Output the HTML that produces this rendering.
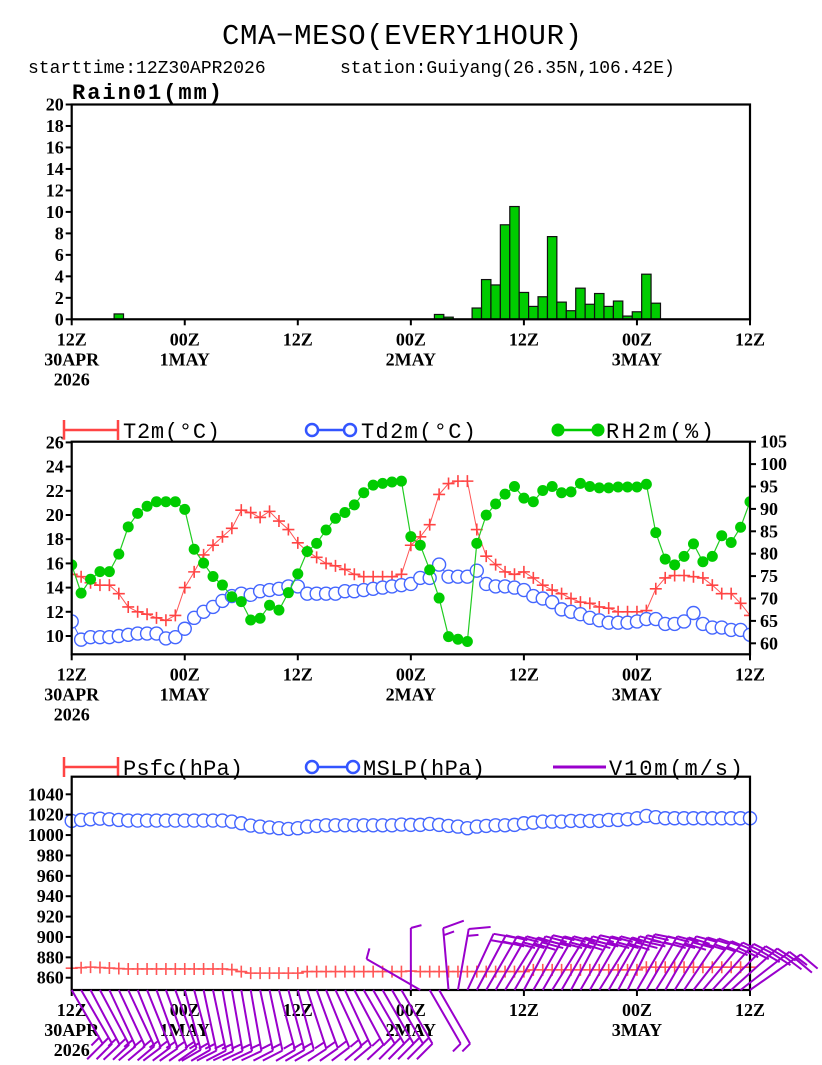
<!DOCTYPE html>
<html><head><meta charset="utf-8"><style>
html,body{margin:0;padding:0;background:#fff;}
svg{display:block;}
.tk{font-family:"Liberation Serif",serif;font-weight:bold;font-size:18px;fill:#000;}
.mono{font-family:"Liberation Mono",monospace;fill:#000;white-space:pre;}
</style></head><body>
<svg id="chart" width="822" height="1065" viewBox="0 0 822 1065" xmlns="http://www.w3.org/2000/svg">
<rect width="822" height="1065" fill="#fff"/>
<text class="mono" x="402" y="44" font-size="29" text-anchor="middle" textLength="360">CMA−MESO(EVERY1HOUR)</text>
<text class="mono" x="28" y="73" font-size="18">starttime:12Z30APR2026</text>
<text class="mono" x="340" y="73" font-size="18">station:Guiyang(26.35N,106.42E)</text>
<g id="p1"></g>
<g id="p2"></g>
<g id="p3"></g>
</svg>
<script>
// ---- data ----
const xTickLabels = [["12Z","30APR","2026"],["00Z","1MAY"],["12Z"],["00Z","2MAY"],["12Z"],["00Z","3MAY"],["12Z"]];
const rainHours = [5,39,40,43,44,45,46,47,48,49,50,51,52,53,54,55,56,57,58,59,60,61,62];
const rainValues = [0.5,0.45,0.2,1.05,3.7,3.2,8.8,10.5,2.5,1.2,2.1,7.7,1.6,0.8,2.9,1.4,2.4,1.2,1.7,0.3,0.7,4.2,1.5];
const rainTicks = [0,2,4,6,8,10,12,14,16,18,20];
const t2m = [15.1,14.9,14.4,14.2,14.2,13.5,12.4,12.0,11.8,11.5,11.3,11.7,14.0,15.3,16.7,17.5,18.2,18.9,20.4,20.2,19.8,20.3,19.5,18.8,17.7,17.0,16.5,16.0,15.8,15.5,15.1,14.9,14.9,14.9,14.9,15.1,17.5,18.2,19.2,21.7,22.6,22.8,22.8,18.8,16.6,15.9,15.3,15.1,15.3,14.8,14.2,13.8,13.5,13.1,12.8,12.7,12.4,12.3,12.0,12.0,12.0,12.1,13.9,14.8,15.0,15.0,14.9,14.8,14.2,13.5,13.5,12.7,11.7];
const td2m = [11.2,9.7,9.9,9.9,9.9,10.0,10.1,10.2,10.2,10.2,9.8,9.9,10.6,11.5,12.0,12.4,12.9,13.3,13.5,13.4,13.7,13.8,13.9,14.1,14.1,13.5,13.5,13.5,13.5,13.7,13.7,13.8,13.9,14.0,14.1,14.2,14.3,14.8,14.8,15.9,14.9,14.9,14.9,15.4,14.3,14.1,14.1,14.0,13.8,13.3,13.1,12.8,12.2,12.0,11.8,11.5,11.3,11.1,11.1,11.1,11.2,11.4,11.4,11.0,11.0,11.2,11.9,11.0,10.7,10.7,10.5,10.5,10.1];
const rh2m = [77.5,71.2,74.3,76,76,79.9,86,89,90.6,91.6,91.6,91.6,89.9,81,77.9,74.9,73,70.4,69.3,65.2,65.6,68.5,67.4,71.3,75.5,80.5,82.3,85.3,87.9,89.2,90.9,93.6,95.3,95.7,96,96.2,83.8,81.9,76.4,70.1,61.5,60.9,60.4,82.3,88.6,91.1,93.3,95,92.4,91.6,94.1,95,93.6,93.8,95.7,95,94.7,94.7,94.9,94.9,94.9,95.5,84.7,78.8,77.5,79.4,82.2,78.2,79.4,84,82.5,85.9,91.6];
const tTicks = [10,12,14,16,18,20,22,24,26];
const rhTicks = [60,65,70,75,80,85,90,95,100,105];
const mslp = [1013.9,1014.8,1015.5,1016.1,1015.5,1014.8,1014.2,1014.2,1014.2,1014.2,1014.2,1014.2,1014.2,1014.2,1014.2,1014.2,1014.2,1013.2,1011.6,1009.3,1008.3,1007.5,1006.7,1006.0,1006.7,1008.3,1009.0,1009.6,1009.6,1009.6,1009.6,1009.6,1009.6,1009.6,1009.6,1010.3,1010.0,1010.0,1010.9,1010.0,1009.0,1008.3,1006.7,1008.3,1009.0,1009.6,1009.6,1010.0,1011.6,1012.2,1013.2,1013.2,1013.2,1013.9,1013.9,1013.9,1013.9,1014.8,1014.8,1015.5,1016.5,1018.8,1017.5,1016.5,1016.5,1016.5,1016.5,1016.5,1016.5,1016.5,1016.5,1016.5,1016.5];
const psfc = [869.4,869.8,870.4,870,869.5,869,868.6,868.6,868.6,868.6,868.6,868.6,868.6,868.6,868.6,868.6,868.6,868,866,864.5,864.5,864.5,864.5,864.5,864.5,866,866,866,866,866,866,866,866,866,866,866,866.5,866,866,866,866,866,866,866,866,866,866,866,866,867.7,867.7,867.7,867.7,867.7,867.7,867.7,867.7,867.7,867.7,867.7,867.7,870.3,870.3,870.3,870.3,870.3,870.3,870.3,870.3,870.3,870.3,870.3,870.3];
const pTicks = [860,880,900,920,940,960,980,1000,1020,1040];
const windDir = [150,150,152,152,155,155,155,158,158,160,160,160,165,165,168,168,170,170,170,170,168,168,165,165,165,162,160,158,155,155,152,150,150,150,150,150,0,300,150,150,355,10,25,28,30,30,32,30,28,30,30,32,30,28,30,30,32,30,28,26,30,30,32,30,32,34,38,40,42,45,48,52,55];
const windSpd = [6,6,6,6,6,6,6,6,6,6,6,6,6,6,6,6,6,6,6,6,6,6,6,6,6,6,6,6,6,6,6,6,6,6,6,6,2,3,2,2,6,6,8,8,8,8,8,8,8,8,8,8,8,8,8,8,8,8,8,8,8,8,8,8,8,8,8,8,8,8,8,8,8];

// ---- helpers ----
const NS = "http://www.w3.org/2000/svg";
const X0 = 71.7, X1 = 750, NH = 72;
const xOf = h => X0 + (X1 - X0) * h / NH;
function mk(parent, tag, attrs, name, inter) {
  const el = document.createElementNS(NS, tag);
  for (const k in attrs) el.setAttribute(k, attrs[k]);
  
  
  parent.appendChild(el);
  return el;
}
function txt(parent, x, y, s, cls, anchor, name, extra) {
  const el = mk(parent, 'text', Object.assign({x: x, y: y, class: cls, 'text-anchor': anchor}, extra || {}), name, false);
  el.textContent = s;
  return el;
}
function box(p, top, bot, name) {
  mk(p, 'rect', {x: X0, y: top, width: X1 - X0, height: bot - top, fill: 'none', stroke: '#000', 'stroke-width': 2.2}, name, false);
}
function xAxis(p, bot, pfx) {
  xTickLabels.forEach((lines, i) => {
    const x = xOf(i * 12);
    mk(p, 'line', {x1: x, x2: x, y1: bot, y2: bot + 6, stroke: '#000', 'stroke-width': 2}, pfx + '-x-tick', false);
    lines.forEach((s, j) => txt(p, x, bot + 26 + j * 20, s, 'tk', 'middle', pfx + '-x-tick-label'));
  });
}
function yAxis(p, ticks, yf, pfx, right) {
  ticks.forEach(v => {
    const y = yf(v);
    const x = right ? X1 : X0;
    mk(p, 'line', {x1: x, x2: right ? x + 6 : x - 6, y1: y, y2: y, stroke: '#000', 'stroke-width': 2}, pfx + '-tick', false);
    txt(p, right ? x + 10 : x - 8, y + 6, String(v), 'tk', right ? 'start' : 'end', pfx + '-tick-label');
  });
}
function plus(p, x, y, col, name) {
  mk(p, 'path', {d: `M${x-6},${y}H${x+6}M${x},${y-6}V${y+6}`, stroke: col, 'stroke-width': 1.6, fill: 'none'}, name, false);
}

// ---- panel 1: rain ----
const p1 = document.getElementById('p1');
const R_TOP = 104.5, R_BOT = 319.3;
const yR = v => R_BOT - (R_BOT - R_TOP) * v / 20;
txt(p1, 72, 99, 'Rain01(mm)', 'mono', 'start', 'rain-axis-title', {'font-size': 22, 'font-weight': 'bold', textLength: 150});
rainHours.forEach((h, i) => {
  const x = xOf(h) - 4.7;
  mk(p1, 'rect', {x: x, y: yR(rainValues[i]), width: 9.4, height: R_BOT - yR(rainValues[i]), fill: '#00cc00', stroke: '#111', 'stroke-width': 1.2}, 'rain-bar', false);
});
box(p1, R_TOP, R_BOT, 'rain-plot-frame');
yAxis(p1, rainTicks, yR, 'rain-y');
xAxis(p1, R_BOT, 'rain');

// ---- panel 2: temperature / RH ----
const p2 = document.getElementById('p2');
const T_TOP = 441.7, T_BOT = 654.3;
const yT = v => 636 - (v - 10) * 12.1;
const yRH = v => 643.3 - (v - 60) * 4.48;
mk(p2, 'line', {x1: 64, x2: 118, y1: 430, y2: 430, stroke: '#ff4444', 'stroke-width': 2.5}, 't2m-legend-line', false);
mk(p2, 'path', {d: 'M64,420V440M118,420V440', stroke: '#ff4444', 'stroke-width': 2.5}, 't2m-legend-marker', false);
txt(p2, 123, 438, 'T2m(°C)', 'mono', 'start', 't2m-legend-label', {'font-size': 22, textLength: 97});
mk(p2, 'line', {x1: 305, x2: 357, y1: 430, y2: 430, stroke: '#3355ff', 'stroke-width': 2.5}, 'td2m-legend-line', false);
mk(p2, 'circle', {cx: 312, cy: 430, r: 6, fill: '#fff', stroke: '#3355ff', 'stroke-width': 2.5}, 'td2m-legend-marker', false);
mk(p2, 'circle', {cx: 350, cy: 430, r: 6, fill: '#fff', stroke: '#3355ff', 'stroke-width': 2.5}, 'td2m-legend-marker', false);
txt(p2, 361, 438, 'Td2m(°C)', 'mono', 'start', 'td2m-legend-label', {'font-size': 22, textLength: 115});
mk(p2, 'line', {x1: 553, x2: 603, y1: 430, y2: 430, stroke: '#00cc00', 'stroke-width': 2.5}, 'rh2m-legend-line', false);
mk(p2, 'circle', {cx: 558, cy: 430, r: 6.5, fill: '#00cc00'}, 'rh2m-legend-marker', false);
mk(p2, 'circle', {cx: 598, cy: 430, r: 6.5, fill: '#00cc00'}, 'rh2m-legend-marker', false);
txt(p2, 606, 438, 'RH2m(%)', 'mono', 'start', 'rh2m-legend-label', {'font-size': 22, textLength: 108});
mk(p2, 'polyline', {points: t2m.map((v, h) => xOf(h) + ',' + yT(v)).join(' '), fill: 'none', stroke: '#ff5555', 'stroke-width': 1}, 't2m-line', false);
t2m.forEach((v, h) => plus(p2, xOf(h), yT(v), '#ff4444', 't2m-point'));
mk(p2, 'polyline', {points: td2m.map((v, h) => xOf(h) + ',' + yT(v)).join(' '), fill: 'none', stroke: '#4466ff', 'stroke-width': 1}, 'td2m-line', false);
td2m.forEach((v, h) => mk(p2, 'circle', {cx: xOf(h), cy: yT(v), r: 6.5, fill: '#fff', stroke: '#4466ff', 'stroke-width': 1.4}, 'td2m-point', false));
mk(p2, 'polyline', {points: rh2m.map((v, h) => xOf(h) + ',' + yRH(v)).join(' '), fill: 'none', stroke: '#22cc22', 'stroke-width': 1.2}, 'rh2m-line', false);
rh2m.forEach((v, h) => mk(p2, 'circle', {cx: xOf(h), cy: yRH(v), r: 5.5, fill: '#00cc00'}, 'rh2m-point', false));
mk(p2, 'rect', {x: X1 + 1, y: T_TOP - 2, width: 70, height: T_BOT - T_TOP + 4, fill: '#fff'}, 'right-margin', false);
mk(p2, 'rect', {x: 0, y: T_TOP - 2, width: X0 - 1, height: T_BOT - T_TOP + 4, fill: '#fff'}, 'left-margin', false);
box(p2, T_TOP, T_BOT, 'temperature-plot-frame');
yAxis(p2, tTicks, yT, 'temperature-y');
yAxis(p2, rhTicks, yRH, 'rh-y', true);
xAxis(p2, T_BOT, 'temperature');

// ---- panel 3: pressure & wind ----
const p3 = document.getElementById('p3');
const P_TOP = 776.7, P_BOT = 990;
const yP = v => 794.3 + (1040 - v) * 1.019;
mk(p3, 'line', {x1: 64, x2: 118, y1: 767, y2: 767, stroke: '#ff4444', 'stroke-width': 2.5}, 'psfc-legend-line', false);
mk(p3, 'path', {d: 'M64,757V777M118,757V777', stroke: '#ff4444', 'stroke-width': 2.5}, 'psfc-legend-marker', false);
txt(p3, 123, 775, 'Psfc(hPa)', 'mono', 'start', 'psfc-legend-label', {'font-size': 22, textLength: 120});
mk(p3, 'line', {x1: 305, x2: 360, y1: 767, y2: 767, stroke: '#3355ff', 'stroke-width': 2.5}, 'mslp-legend-line', false);
mk(p3, 'circle', {cx: 312, cy: 767, r: 6, fill: '#fff', stroke: '#3355ff', 'stroke-width': 2.5}, 'mslp-legend-marker', false);
mk(p3, 'circle', {cx: 353, cy: 767, r: 6, fill: '#fff', stroke: '#3355ff', 'stroke-width': 2.5}, 'mslp-legend-marker', false);
txt(p3, 363, 775, 'MSLP(hPa)', 'mono', 'start', 'mslp-legend-label', {'font-size': 22, textLength: 122});
mk(p3, 'line', {x1: 553, x2: 606, y1: 767, y2: 767, stroke: '#9900cc', 'stroke-width': 3}, 'v10m-legend-line', false);
txt(p3, 609, 775, 'V10m(m/s)', 'mono', 'start', 'v10m-legend-label', {'font-size': 22, textLength: 134});
mk(p3, 'polyline', {points: psfc.map((v, h) => xOf(h) + ',' + yP(v)).join(' '), fill: 'none', stroke: '#ff5555', 'stroke-width': 1}, 'psfc-line', false);
psfc.forEach((v, h) => plus(p3, xOf(h), yP(v), '#ff5555', 'psfc-point'));
mslp.forEach((v, h) => mk(p3, 'circle', {cx: xOf(h), cy: yP(v), r: 6.5, fill: '#fff', stroke: '#4466ff', 'stroke-width': 1.4}, 'mslp-point', false));
box(p3, P_TOP, P_BOT, 'pressure-plot-frame');
yAxis(p3, pTicks, yP, 'pressure-y');
xAxis(p3, P_BOT, 'pressure');
const SL = 62, FL = 22;
windDir.forEach((d, h) => {
  const a = d * Math.PI / 180;
  const dx = Math.sin(a), dy = -Math.cos(a);
  const bx = xOf(h), by = P_BOT;
  const tx = bx + dx * SL, ty = by + dy * SL;
  const ang = 75 * Math.PI / 180;
  const c = Math.cos(ang), s = Math.sin(ang);
  const fx = dx * c - dy * s, fy = dx * s + dy * c;
  let path = `M${bx},${by}L${tx},${ty}`;
  let rem = windSpd[h], k = 0;
  while (rem >= 4) {
    const px = tx - dx * 7 * k, py = ty - dy * 7 * k;
    path += `M${px},${py}L${px + fx * FL},${py + fy * FL}`;
    rem -= 4; k++;
  }
  if (rem >= 2) {
    const px = tx - dx * 7 * k, py = ty - dy * 7 * k;
    path += `M${px},${py}L${px + fx * FL / 2},${py + fy * FL / 2}`;
  }
  mk(p3, 'path', {d: path, fill: 'none', stroke: '#9900cc', 'stroke-width': 2}, 'wind-barb', false);
});
</script>
</body></html>
